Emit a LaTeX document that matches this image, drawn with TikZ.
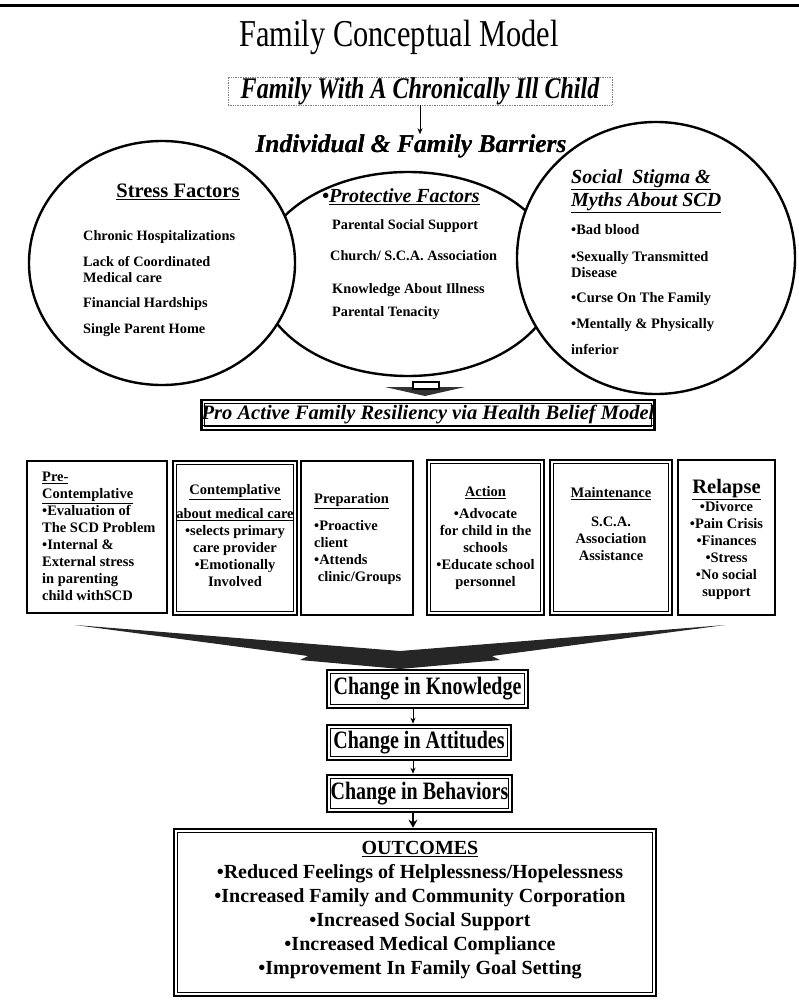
\documentclass[tikz,border=0pt]{standalone}
\usepackage{fontspec}
\setmainfont{Liberation Serif}
\newfontfamily\cf{Liberation Serif}[FakeStretch=0.8]
\usetikzlibrary{shapes.geometric,arrows.meta}
\begin{document}
\begin{tikzpicture}[x=1pt,y=-1pt,
  thickbox/.style={draw, line width=2.6pt, inner sep=0pt},
  dblbox/.style={draw, line width=2.6pt, inner sep=0pt,
    path picture={\draw[line width=0.8pt]
      ([shift={(3.2pt,-3.2pt)}]path picture bounding box.north west) rectangle
      ([shift={(-3.2pt,3.2pt)}]path picture bounding box.south east);}},
  circ/.style={ellipse, draw, line width=2.4pt, fill=white, inner sep=0pt},
  item/.style={inner sep=0pt, anchor=west, font=\bfseries\fontsize{14.3}{16}\selectfont},
  sitem/.style={inner sep=0pt, anchor=west, font=\bfseries\fontsize{14.5}{16}\selectfont},
  head/.style={inner sep=0pt, font=\bfseries\itshape\fontsize{20}{23}\selectfont},
  stg/.style={inner sep=0pt, font=\bfseries\fontsize{14.5}{17}\selectfont},
  chg/.style={dblbox, font=\cf\bfseries\fontsize{25}{28}\selectfont},
  arr/.style={line width=0.9pt, -{Stealth[length=6pt,width=5pt]}}
]
\useasboundingbox (0,0) rectangle (799,1000);
\draw[line width=3pt] (0,6) -- (799,6);

% title
\node[inner sep=0pt, font=\cf\fontsize{38}{40}\selectfont] (title) at (399,37) {Family Conceptual Model};

\node[draw=gray, densely dotted, line width=0.7pt, minimum width=384pt, minimum height=28pt, inner sep=0pt,
  font=\cf\bfseries\itshape\fontsize{30}{32}\selectfont] (fam) at (420,91) {Family With A Chronically Ill Child};

\node[inner sep=0pt, font=\bfseries\itshape\fontsize{25.5}{28}\selectfont] (barr) at (411,146) {Individual \& Family Barriers};
\draw[arr] (fam.south) -- (fam.south |- barr.north);

% circles
\node[circ, minimum width=300pt, minimum height=204pt] (prot) at (408,274) {};
\node[circ, minimum width=266pt, minimum height=244pt] (stress) at (162,263) {};
\node[circ, minimum width=278pt, minimum height=272pt] (stigma) at (656,258) {};
\node[inner sep=0pt, font=\bfseries\itshape\fontsize{25.5}{28}\selectfont] at (411,146) {Individual \& Family Barriers};

% stress factors
\node[inner sep=0pt, font=\bfseries\fontsize{20.5}{24}\selectfont] (sfh) at (178,192) {\underline{Stress Factors}};
\node[item] (s1) at (83,237) {Chronic Hospitalizations};
\node[item, align=left, font=\bfseries\fontsize{14.3}{16}\selectfont] (s2) at (83,270) {Lack of Coordinated\\Medical care};
\node[item] (s3) at (83,304) {Financial Hardships};
\node[item] (s4) at (83,330) {Single Parent Home};

% protective factors
\node[head, anchor=west] (pfh) at (322,197) {•\underline{Protective Factors}};
\node[item] (p1) at (332,226) {Parental Social Support};
\node[item] (p2) at (330,256) {Church/ S.C.A. Association};
\node[item] (p3) at (332,290) {Knowledge About Illness};
\node[item] (p4) at (332,313) {Parental Tenacity};

% stigma
\node[head, anchor=west] (sgh1) at (571,180) {\underline{Social\ \ Stigma \&}};
\node[head, anchor=west] (sgh2) at (571,203) {\underline{Myths About SCD}};
\node[sitem] (g1) at (571,230) {•Bad blood};
\node[sitem, align=left] (g2) at (571,265) {•Sexually Transmitted\\Disease};
\node[sitem] (g3) at (571,299) {•Curse On The Family};
\node[sitem] (g4) at (571,325) {•Mentally \& Physically};
\node[sitem] (g5) at (571,349) {inferior};

% block arrow
\fill[black!80] (385,387) -- (465,387) -- (425,396) -- cycle;
\draw[line width=1.2pt, fill=white] (413,382) rectangle (439,389);

% pro active
\node[dblbox, minimum width=453pt, minimum height=30pt, font=\bfseries\itshape\fontsize{20.5}{22}\selectfont] (pro) at (428,415)
  {\underline{Pro Active Family Resiliency via Health Belief Model}};

% stages
\node[thickbox, minimum width=140pt, minimum height=152pt] (st1) at (97,537) {};
\node[dblbox, minimum width=124pt, minimum height=154pt] (st2) at (235,538) {};
\node[thickbox, minimum width=112pt, minimum height=154pt] (st3) at (357,538) {};
\node[dblbox, minimum width=117pt, minimum height=155pt] (st4) at (485.5,537.5) {};
\node[dblbox, minimum width=122pt, minimum height=155pt] (st5) at (611,537.5) {};
\node[thickbox, minimum width=97pt, minimum height=155pt] (st6) at (726.5,537.5) {};

\node[stg, anchor=north west, align=left] (t1) at (42,472)
  {\underline{Pre-}\\\underline{Contemplative}\\•Evaluation of\\The SCD Problem\\•Internal \&\\External stress\\in parenting\\child withSCD};

\node[stg] (t2h) at (235,492) {\underline{Contemplative}};
\node[stg, anchor=north, align=center] (t2) at (235,508.5)
  {\underline{about medical care}\\•selects primary\\care provider\\•Emotionally\\Involved};

\node[stg, anchor=west] (t3h) at (314,501) {\underline{Preparation}};
\node[stg, anchor=north west, align=left] (t3) at (314,520.5)
  {•Proactive\\client\\•Attends\\\ clinic/Groups};

\node[stg] (t4h) at (485.5,493) {\underline{Action}};
\node[stg, anchor=north, align=center] (t4) at (485.5,508.5)
  {•Advocate\\for child in the\\schools\\•Educate school\\personnel};

\node[stg] (t5h) at (611,494) {\underline{Maintenance}};
\node[stg, anchor=north, align=center] (t5) at (611,516.5)
  {S.C.A.\\Association\\Assistance};

\node[inner sep=0pt, font=\bfseries\fontsize{20.5}{21}\selectfont] (t6h) at (726.5,490) {\underline{Relapse}};
\node[stg, anchor=north, align=center] (t6) at (726.5,501.5)
  {•Divorce\\•Pain Crisis\\•Finances\\•Stress\\•No social\\support};

% funnel
\fill[black!85] (75,625) -- (400,651) -- (725,625) -- (492,656) -- (500,660) -- (400,669)
  -- (300,660) -- (308,656) -- cycle;

% change boxes
\node[chg, minimum width=201pt, minimum height=38pt] (know) at (427.5,689) {Change in Knowledge};
\node[chg, minimum width=184pt, minimum height=35pt] (att) at (419,742.5) {Change in Attitudes};
\node[chg, minimum width=185pt, minimum height=37pt] (beh) at (419.5,793.5) {Change in Behaviors};
\coordinate (ax) at (413,0);

% outcomes
\node[dblbox, minimum width=482pt, minimum height=167pt] (out) at (415,912.5) {};
\node[inner sep=0pt, anchor=north, align=center, font=\bfseries\fontsize{20}{24}\selectfont] (outt) at (420,841)
  {\underline{OUTCOMES}\\•Reduced Feelings of Helplessness/Hopelessness\\•Increased Family and Community Corporation\\•Increased Social Support\\•Increased Medical Compliance\\•Improvement In Family Goal Setting};

\draw[arr] (know.south -| ax) -- (att.north -| ax);
\draw[arr] (att.south -| ax) -- (beh.north -| ax);
\draw[line width=2pt, -{Stealth[length=8pt,width=9pt]}] (beh.south -| ax) -- (out.north -| ax);
\end{tikzpicture}
\end{document}
